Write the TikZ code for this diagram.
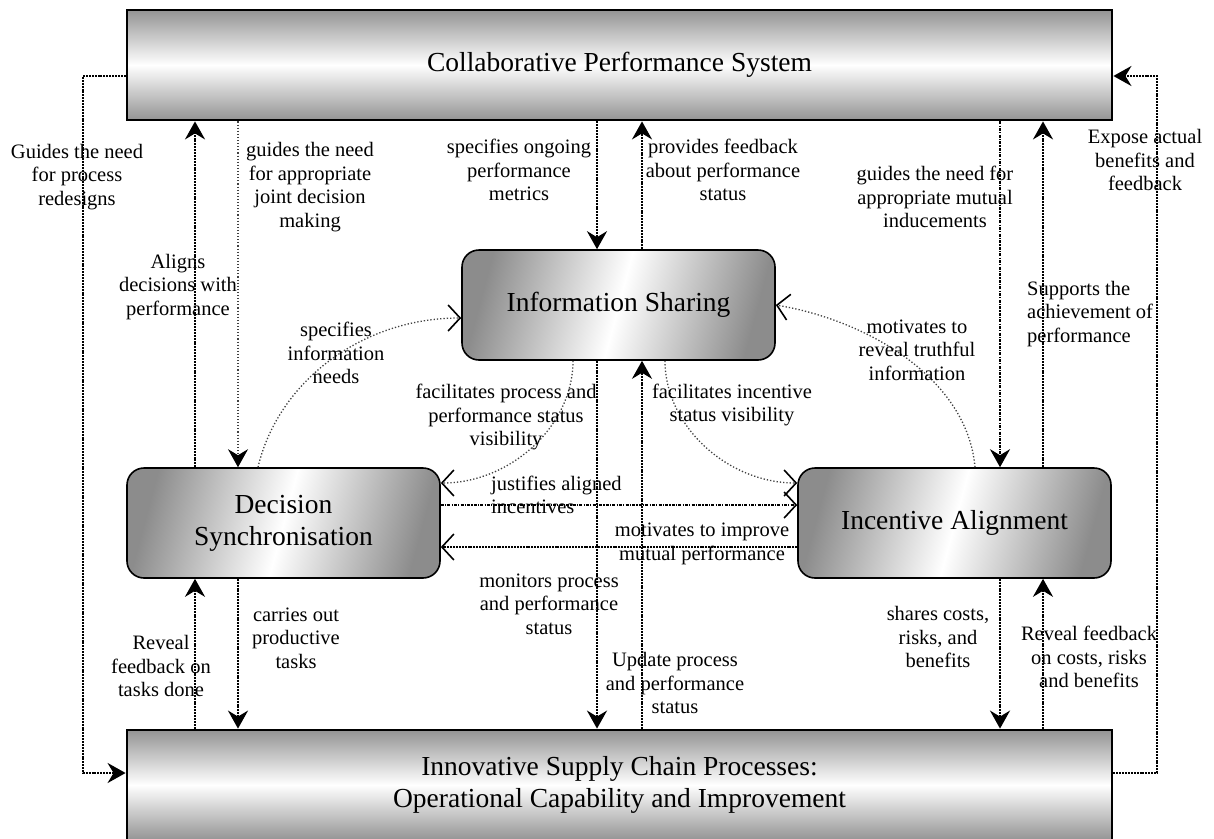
\documentclass[tikz,border=0pt]{standalone}
\usepackage{fontspec}
\setmainfont{Liberation Serif}
\usetikzlibrary{arrows.meta}
\begin{document}
\begin{tikzpicture}[x=1pt,y=-1pt,
        bigbox/.style={draw,line width=2.8pt,minimum width=985pt,minimum height=110pt,
            top color=black!42,bottom color=black!42,middle color=white,
            font=\fontsize{27.5}{32}\selectfont,align=center,inner sep=0pt},
        smallbox/.style={draw,line width=1.6pt,rounded corners=17pt,minimum width=313pt,minimum height=110pt,
            left color=black!45,right color=black!45,middle color=white,shading angle=75,
            font=\fontsize{27.5}{32}\selectfont,align=center,inner sep=0pt},
        lbl/.style={font=\fontsize{20.5}{23.5}\selectfont,align=center,inner sep=0pt},
        link/.style={dash pattern=on 2pt off 0.9pt,line width=2.6pt,-{Stealth[length=18pt,width=20pt,inset=6pt]}},
        dashlink/.style={link,dash pattern=on 3pt off 1.2pt on 1.2pt off 1.2pt},
        thinlink/.style={dotted,line width=1.1pt,black!75,-{Stealth[length=18pt,width=20pt,inset=6pt,black]}},
        openlink/.style={dash pattern=on 2pt off 0.9pt,line width=2.4pt,-{Straight Barb[length=12pt,width=26pt,line width=1.6pt]}},
        curvelink/.style={dotted,line width=1.3pt,black!75,-{Straight Barb[length=12pt,width=26pt,line width=1.6pt,black]}}]
    \useasboundingbox (0,0) rectangle (1214,838);
    % Boxes
    \node[bigbox] (cps) at (619.5,65) {Collaborative Performance System};
    \node[bigbox] (isc) at (619.5,785) {Innovative Supply Chain Processes:\\Operational Capability and Improvement};
    \node[smallbox] (is) at (618.5,305) {Information Sharing};
    \node[smallbox] (ds) at (283.5,523) {Decision\\Synchronisation};
    \node[smallbox] (ia) at (954.5,523) {Incentive Alignment};
    % Columns and rows
    \coordinate (lt) at (83,76);
    \coordinate (lb) at (83,773);
    \coordinate (rt) at (1157,76);
    \coordinate (rb) at (1157,773);
    \coordinate (x1) at (195,0);
    \coordinate (x2) at (238,0);
    \coordinate (x3) at (597,0);
    \coordinate (x4) at (642,0);
    \coordinate (x5) at (1000,0);
    \coordinate (x6) at (1043,0);
    \coordinate (r1) at (0,505);
    \coordinate (r2) at (0,547);
    % Outer loops
    \draw[link] (lt -| cps.west) -- (lt) -- (lb) -- (lb -| isc.west);
    \draw[link] (rb -| isc.east) -- (rb) -- (rt) -- (rt -| cps.east);
    % Verticals
    \draw[link] (ds.north -| x1) -- (cps.south -| x1);
    \draw[link] (isc.north -| x1) -- (ds.south -| x1);
    \draw[thinlink] (cps.south -| x2) -- (ds.north -| x2);
    \draw[link] (ds.south -| x2) -- (isc.north -| x2);
    \draw[link] (cps.south -| x3) -- (is.north -| x3);
    \draw[link] (is.south -| x3) -- (isc.north -| x3);
    \draw[link] (is.north -| x4) -- (cps.south -| x4);
    \draw[link] (isc.north -| x4) -- (is.south -| x4);
    \draw[dashlink] (cps.south -| x5) -- (ia.north -| x5);
    \draw[link] (ia.south -| x5) -- (isc.north -| x5);
    \draw[link] (ia.north -| x6) -- (cps.south -| x6);
    \draw[link] (isc.north -| x6) -- (ia.south -| x6);
    % Horizontals
    \draw[openlink,dash pattern=on 3pt off 1.2pt on 1.2pt off 1.2pt] (ds.east |- r1) -- (ia.west |- r1);
    \draw[openlink] (ia.west |- r2) -- (ds.east |- r2);
    % Curves
    \coordinate (a1) at (258,318);
    \coordinate (b1) at (573,483);
    \coordinate (b2) at (665,483);
    \coordinate (a2) at (975,305);
    \draw[curvelink] (ds.north -| a1) .. controls +(20,-85) and +(-100,0) .. (is.west |- a1);
    \draw[curvelink] (is.south -| b1) .. controls +(0,65) and +(70,0) .. (ds.east |- b1);
    \draw[curvelink] (is.south -| b2) .. controls +(0,65) and +(-70,0) .. (ia.west |- b2);
    \draw[curvelink] (ia.north -| a2) .. controls +(-8,-90) and +(90,15) .. (is.east |- a2);
    % Labels
    \node[lbl] (l1) at (77,177) {Guides the need\\for process\\redesigns};
    \node[lbl] (l2) at (178,287) {Aligns\\decisions with\\performance};
    \node[lbl] (l3) at (310,187) {guides the need\\for appropriate\\joint decision\\making};
    \node[lbl] (l4) at (519,170) {specifies ongoing\\performance\\metrics};
    \node[lbl] (l5) at (723,170) {provides feedback\\about performance\\status};
    \node[lbl] (l6) at (935,197) {guides the need for\\appropriate mutual\\inducements};
    \node[lbl] (l7) at (1145,160) {Expose actual\\benefits and\\feedback};
    \node[lbl,align=left,anchor=west] (l8) at (1027,314) {Supports the\\achievement of\\performance};
    \node[lbl] (l9) at (336,353) {specifies\\information\\needs};
    \node[lbl] (l10) at (506,417) {facilitates process and\\performance status\\visibility};
    \node[lbl] (l11) at (732,405) {facilitates incentive\\status visibility};
    \node[lbl] (l12) at (917,350) {motivates to\\reveal truthful\\information};
    \node[lbl,align=left,anchor=west] (l13) at (491,495) {justifies aligned\\incentives};
    \node[lbl] (l14) at (702,544) {motivates to improve\\mutual performance};
    \node[lbl] (l15) at (549,604) {monitors process\\and performance\\status};
    \node[lbl] (l16) at (675,683) {Update process\\and performance\\status};
    \node[lbl] (l17) at (296,638) {carries out\\productive\\tasks};
    \node[lbl] (l18) at (161,666) {Reveal\\feedback on\\tasks done};
    \node[lbl] (l19) at (938,637) {shares costs,\\risks, and\\benefits};
    \node[lbl] (l20) at (1089,657) {Reveal feedback\\on costs, risks\\and benefits};
\end{tikzpicture}
\end{document}
